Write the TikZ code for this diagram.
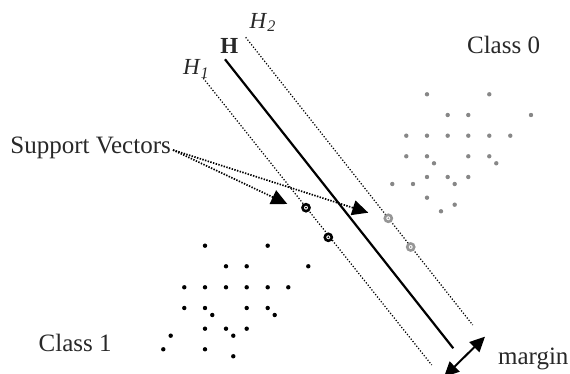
\documentclass[tikz,border=0pt]{standalone}
\usepackage{fontspec}
\setmainfont{Liberation Serif}
\usetikzlibrary{arrows.meta}
\definecolor{txt}{RGB}{40,40,40}
\definecolor{dotgray}{RGB}{135,135,135}
\definecolor{svgray}{RGB}{150,150,150}
\begin{document}
\begin{tikzpicture}[x=0.5pt,y=-0.5pt,
  lbl/.style={inner sep=0pt, anchor=base west, text=txt, font=\fontsize{12.5}{14}\selectfont},
  hlbl/.style={inner sep=0pt, anchor=base west, text=txt, font=\fontsize{11.5}{13}\selectfont},
  hplane/.style={line width=1.1pt},
  marginplane/.style={line width=0.62pt, dash pattern=on 0.6pt off 0.9pt},
  svarrow/.style={line width=0.85pt, dash pattern=on 0.7pt off 0.7pt,
    -{Triangle[length=8pt,width=7.5pt]}},
  marginarrow/.style={line width=1pt,
    {Triangle[length=7.5pt,width=7pt]}-{Triangle[length=7.5pt,width=7pt]}},
  svring/.style={line width=1.3pt, fill=white}
]
\useasboundingbox (0,0) rectangle (570,374);

% separating hyperplane H and the margin planes H1, H2
\coordinate (Htop) at (225,59.3);
\coordinate (Hbot) at (453.3,348.3);
\coordinate (H1top) at (203.3,78.3);
\coordinate (H1bot) at (431.7,365);
\coordinate (H2top) at (245.7,37.3);
\coordinate (H2bot) at (472.7,325);
\draw[hplane] (Htop) -- (Hbot);
\draw[marginplane] (H1top) -- (H1bot);
\draw[marginplane] (H2top) -- (H2bot);

% class 1 samples
\foreach \p in {(205,245.7),(267.7,245.7),
  (226,266.3),(246.7,266.3),(308.3,266.3),
  (184.3,287.3),(205,287.3),(226,287.3),(246.7,287.3),(267.7,287.3),(288.3,287.3),
  (184.3,308),(205,308),(246.7,308),(267.7,308),
  (212.3,315),(274.7,315),
  (205,328.7),(226,328.7),(246.7,328.7),
  (233.3,335.7),(170.7,335.7),
  (163.3,349.3),(205,349.3),
  (233.3,356.3)}
  \fill[black] \p circle[radius=1.1pt];

% class 0 samples
\foreach \p in {(427,94.3),(489.3,94.3),
  (447.7,115),(468.3,115),(531,115),
  (406.3,135.7),(427,135.7),(447.7,135.7),(468.3,135.7),(489.3,135.7),(510.3,135.7),
  (406.3,156.3),(427,156.3),(468.3,156.3),(489.3,156.3),
  (434,163.3),(496.3,163.3),
  (427,177),(447.7,177),(468.3,177),
  (392.3,184),(413,184),(454.7,184),
  (427,197.7),(454.7,204.7),(441,211.3)}
  \fill[dotgray] \p circle[radius=1.1pt];

% support vectors on H1 (class 1) and H2 (class 0)
\coordinate (sv1) at (306,207.7);
\coordinate (sv2) at (328.3,237.3);
\coordinate (sv3) at (388.3,218.3);
\coordinate (sv4) at (410.7,247);
\foreach \c in {sv1,sv2} {
  \draw[svring, draw=black] (\c) circle[radius=1.75pt];
  \fill[black] (\c) circle[radius=0.5pt];
}
\foreach \c in {sv3,sv4} {
  \draw[svring, draw=svgray] (\c) circle[radius=1.75pt];
  \fill[svgray] (\c) circle[radius=0.5pt];
}

% labels
\node[lbl] (svlabel) at (10,153.3) {Support Vectors};
\node[lbl] (class0) at (466.7,54) {Class 0};
\node[lbl] (class1) at (38.3,351.7) {Class 1};
\node[lbl] (marginlbl) at (497.7,365) {margin};
\node[hlbl] (Hlbl) at (220,54) {\textbf{H}};
\node[hlbl] (H1lbl) at (182.7,75) {\textit{H}\textsubscript{\textit{1}}};
\node[hlbl] (H2lbl) at (249.3,28.3) {\textit{H}\textsubscript{\textit{2}}};

% pointers from the label to the support vectors
\coordinate (svfrom) at (173,150);
\coordinate (svtipA) at (287.3,204);
\coordinate (svtipB) at (368.3,212.7);
\draw[svarrow] (svfrom) -- (svtipA);
\draw[svarrow] (svfrom) -- (svtipB);

% margin width
\coordinate (mA) at (444,377);
\coordinate (mB) at (485,336.7);
\draw[marginarrow] (mA) -- (mB);
\end{tikzpicture}
\end{document}
